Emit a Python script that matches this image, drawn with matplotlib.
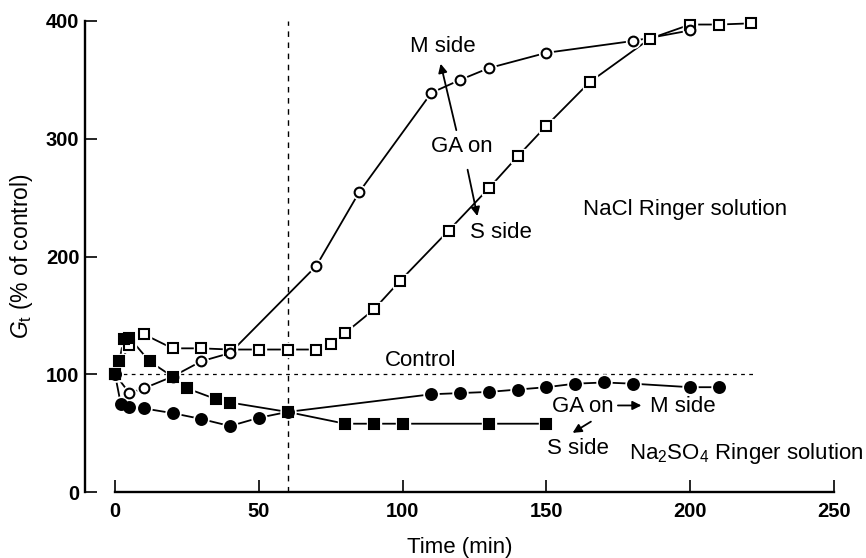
import matplotlib
matplotlib.use('Agg')
import matplotlib.pyplot as plt

plt.rcParams['font.family'] = ['Liberation Sans', 'DejaVu Sans']
plt.rcParams['mathtext.fontset'] = 'custom'
plt.rcParams['mathtext.rm'] = 'Liberation Sans'
plt.rcParams['mathtext.it'] = 'Liberation Sans:italic'

# NaCl Ringer, GA on M side (open circles)
t_nacl_m = [0, 5, 10, 20, 30, 40, 70, 85, 110, 120, 130, 150, 180, 200]
g_nacl_m = [100, 84, 88, 98, 111, 118, 192, 255, 339, 350, 360, 373, 383, 392]

# NaCl Ringer, GA on S side (open squares)
t_nacl_s = [0, 5, 10, 20, 30, 40, 50, 60, 70, 75, 80, 90, 99, 116, 130, 140, 150, 165, 186, 200, 210, 221]
g_nacl_s = [100, 125, 134, 122, 122, 121, 121, 121, 121, 126, 135, 155, 179, 222, 258, 285, 311, 348, 385, 397, 397, 398]

# Na2SO4 Ringer, GA on M side (filled circles)
t_so4_m = [0, 2, 5, 10, 20, 30, 40, 50, 60, 110, 120, 130, 140, 150, 160, 170, 180, 200, 210]
g_so4_m = [100, 75, 72, 71, 67, 62, 56, 63, 68, 83, 84, 85, 87, 89, 92, 93, 92, 89, 89]

# Na2SO4 Ringer, GA on S side (filled squares)
t_so4_s = [0, 1.5, 3, 5, 12, 20, 25, 35, 40, 60, 80, 90, 100, 130, 150]
g_so4_s = [100, 111, 130, 131, 111, 98, 88, 79, 76, 68, 58, 58, 58, 58, 58]

fig = plt.figure(figsize=(8.66, 5.58), dpi=100)
ax = fig.add_axes([85 / 866, 66 / 558, 749 / 866, 471 / 558])
ax.set_xlim(-10.43, 250)
ax.set_ylim(0, 400)

# reference lines
ax.plot([60, 60], [0, 400], color='black', lw=1.0, ls=(0, (4, 4)), clip_on=False)
ax.plot([0, 223], [100, 100], color='black', lw=0.9, ls=(0, (3, 3.5)))


def series(t, g, marker, filled, ms):
    ax.plot(t, g, color='black', lw=1.3, zorder=2, clip_on=False)
    # white halo so the joining lines stop short of the symbols
    ax.plot(t, g, ls='none', marker=marker, ms=ms + 3, mfc='white', mec='white',
            zorder=3, clip_on=False)
    ax.plot(t, g, ls='none', marker=marker, ms=ms,
            mfc='black' if filled else 'white', mec='black', mew=1.5,
            zorder=4, clip_on=False)


series(t_nacl_s, g_nacl_s, 's', False, 6.8)
series(t_nacl_m, g_nacl_m, 'o', False, 7)
series(t_so4_s, g_so4_s, 's', True, 7.2)
series(t_so4_m, g_so4_m, 'o', True, 7.8)

# axes styling
for s in ['top', 'right']:
    ax.spines[s].set_visible(False)
ax.spines['left'].set_bounds(0, 400)
ax.spines['bottom'].set_bounds(0, 250)
ax.spines['left'].set_linewidth(1.7)
ax.spines['bottom'].set_linewidth(1.7)
ax.set_xticks([0, 50, 100, 150, 200, 250])
ax.set_yticks([0, 100, 200, 300, 400])
ax.tick_params(axis='both', direction='in', length=8.5, width=1.2, labelsize=14.5)
ax.tick_params(axis='x', pad=7)
ax.tick_params(axis='y', pad=4)
for lab in ax.get_xticklabels() + ax.get_yticklabels():
    lab.set_fontweight('bold')

ax.set_xlabel('Time (min)', fontsize=16, labelpad=12)
ax.set_ylabel(r'$G_{\mathrm{t}}$ (% of control)', fontsize=16.5, labelpad=8)

# annotations
fs = 16
arrow = dict(arrowstyle='-|>', color='black', lw=1.3, mutation_scale=13)
ax.text(114, 378, 'M side', fontsize=fs, ha='center', va='center')
ax.text(120.6, 293, 'GA on', fontsize=fs, ha='center', va='center')
ax.text(134.2, 220, 'S side', fontsize=fs, ha='center', va='center')
ax.text(198.2, 240, 'NaCl Ringer solution', fontsize=fs, ha='center', va='center')
ax.annotate('', xy=(113, 366), xytext=(118.9, 305), arrowprops=arrow)
ax.annotate('', xy=(126.2, 232), xytext=(122.4, 276), arrowprops=arrow)

ax.text(106.4, 112, 'Control', fontsize=fs, ha='center', va='center')
ax.text(162.6, 72.5, 'GA on', fontsize=fs, ha='center', va='center')
ax.text(197.3, 72.5, 'M side', fontsize=fs, ha='center', va='center')
ax.annotate('', xy=(184, 73.5), xytext=(173.9, 73.5), arrowprops=arrow)
ax.annotate('', xy=(158.3, 49), xytext=(166.3, 61), arrowprops=arrow)
ax.text(161, 37, 'S side', fontsize=fs, ha='center', va='center')
ax.text(219.4, 33, r'Na$_2$SO$_4$ Ringer solution', fontsize=fs, ha='center', va='center',
        clip_on=False)

fig.savefig('out.png', dpi=100)
